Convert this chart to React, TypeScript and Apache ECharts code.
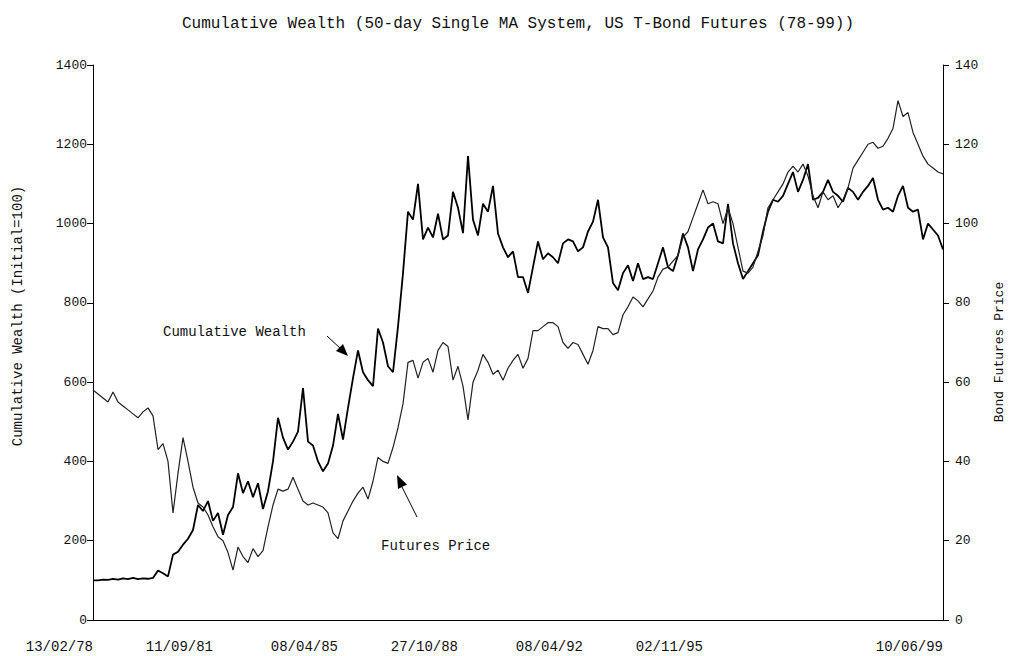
import React, { useEffect, useRef } from "react";
import * as echarts from "echarts";

// Sampled every equal step along the time axis (171 samples, Feb 1978 – Jun 1999)
const wealth: number[] = [
  100, 100, 102, 101, 104, 102, 105, 103, 106, 103,
  105, 104, 106, 125, 118, 110, 165, 172, 190, 205,
  227, 290, 275, 300, 250, 270, 215, 265, 285, 370,
  320, 350, 310, 345, 280, 325, 400, 510, 460, 430,
  450, 475, 585, 450, 440, 400, 375, 395, 440, 520,
  455, 535, 610, 680, 625, 605, 590, 735, 700, 640,
  625, 740, 875, 1030, 1010, 1100, 960, 990, 965, 1025,
  960, 970, 1080, 1040, 976, 1170, 1010, 970, 1050, 1030,
  1095, 975, 940, 915, 930, 865, 865, 825, 890, 955,
  910, 925, 915, 900, 950, 960, 955, 930, 940, 980,
  1005, 1060, 965, 940, 850, 832, 875, 895, 855, 900,
  860, 865, 860, 900, 940, 890, 880, 920, 975, 940,
  880, 935, 960, 990, 1000, 955, 950, 1050, 950, 900,
  860, 880, 900, 920, 980, 1030, 1060, 1055, 1070, 1100,
  1130, 1080, 1110, 1150, 1060, 1065, 1080, 1110, 1080, 1070,
  1055, 1090, 1080, 1060, 1080, 1095, 1115, 1060, 1035, 1040,
  1030, 1070, 1095, 1040, 1030, 1035, 960, 1000, 985, 970,
  935,
];

const futures: number[] = [
  58, 57, 56, 55, 57.5, 55, 54, 53, 52, 51,
  52.5, 53.5, 51.5, 43, 44.5, 40, 27, 37, 46, 40,
  33.5, 29.5, 28.5, 26.5, 23.5, 21, 20, 17, 12.6, 18.4,
  16, 14.5, 18, 16, 17.5, 23.5, 29, 33, 32.5, 33,
  36, 33, 30, 29, 29.5, 29, 28.5, 27, 22, 20.5,
  25, 27.5, 30, 32, 33.5, 30.5, 35, 41, 40, 39.5,
  43.5, 48.5, 54.5, 65, 65.5, 61, 65, 66, 62.5, 68,
  70, 69, 60.5, 64, 59, 50.5, 60, 63, 67, 65,
  62, 63, 60.5, 63.5, 65.5, 67, 63.5, 66, 73, 73,
  74, 75, 75, 74, 70, 68.5, 70, 69.5, 67, 64.5,
  68, 74, 73.5, 73.5, 72, 72.5, 77, 79, 81.5, 80.5,
  79, 81, 83, 86.5, 88.5, 89, 90.5, 92, 96.5, 98,
  101.5, 105, 108.5, 105, 105.5, 105, 100, 104, 100, 94,
  88, 87.5, 89, 93, 97, 104, 106, 108, 110, 113,
  114.5, 113, 115, 112, 107, 104, 108, 106, 107, 104,
  106, 109, 114, 116, 118, 120, 120.5, 119, 119.5, 121.5,
  124, 131, 127, 128, 123, 120, 117, 115, 114, 113,
  112.5,
];

const tickIndex: number[] = [0, 24, 49, 73, 98, 122, 170];
const tickLabels: string[] = [
  "13/02/78",
  "11/09/81",
  "08/04/85",
  "27/10/88",
  "08/04/92",
  "02/11/95",
  "10/06/99",
];

const titleText =
  "Cumulative Wealth (50-day Single MA System, US T-Bond Futures (78-99))";
const leftAxisName = "Cumulative Wealth (Initial=100)";
const rightAxisName = "Bond Futures Price";

const MONO = "'Liberation Mono', 'DejaVu Sans Mono', monospace";

export default function App() {
  const ref = useRef<HTMLDivElement>(null);

  useEffect(() => {
    if (!ref.current) return;
    const chart = echarts.init(ref.current, undefined, { renderer: "svg" });
    const categories = wealth.map((_, i) => String(i));

    const axisLineStyle = { color: "#000", width: 1 };

    chart.setOption({
      animation: false,
      backgroundColor: "#fff",
      title: {
        text: titleText,
        left: 513,
        textAlign: "center",
        top: 11,
        textStyle: {
          fontFamily: MONO,
          fontSize: 16,
          fontWeight: "normal",
          color: "#111",
        },
      },
      grid: { left: 93, right: 66, top: 65, bottom: 36, containLabel: false },
      xAxis: {
        type: "category",
        data: categories,
        boundaryGap: false,
        axisLine: { show: true, lineStyle: axisLineStyle },
        axisTick: { show: false },
        splitLine: { show: false },
        axisLabel: {
          interval: (index: number) => tickIndex.includes(index),
          formatter: (_v: string, index: number) => {
            const k = tickIndex.indexOf(index);
            return k >= 0 ? tickLabels[k] : "";
          },
          align: "right",
          margin: 20,
          fontFamily: MONO,
          fontSize: 14,
          color: "#111",
        },
      },
      yAxis: [
        {
          type: "value",
          min: 0,
          max: 1400,
          interval: 200,
          position: "left",
          axisLine: { show: true, lineStyle: axisLineStyle },
          axisTick: { show: true, length: 6, lineStyle: axisLineStyle },
          splitLine: { show: false },
          axisLabel: {
            formatter: (v: number) => String(v),
            fontFamily: MONO,
            fontSize: 13,
            color: "#111",
            margin: 6,
          },
        },
        {
          type: "value",
          min: 0,
          max: 140,
          interval: 20,
          position: "right",
          axisLine: { show: true, lineStyle: axisLineStyle },
          axisTick: { show: true, length: 6, lineStyle: axisLineStyle },
          splitLine: { show: false },
          axisLabel: {
            formatter: (v: number) => String(v),
            fontFamily: MONO,
            fontSize: 13,
            color: "#111",
            margin: 12,
          },
        },
      ],
      series: [
        {
          name: "Cumulative Wealth",
          type: "line",
          yAxisIndex: 0,
          data: wealth,
          symbol: "none",
          lineStyle: { color: "#000", width: 1.8 },
        },
        {
          name: "Futures Price",
          type: "line",
          yAxisIndex: 1,
          data: futures,
          symbol: "none",
          lineStyle: { color: "#222", width: 1.2 },
        },
      ],
      graphic: [
        {
          type: "text",
          x: 18,
          y: 316,
          rotation: Math.PI / 2,
          style: {
            text: leftAxisName,
            fontFamily: MONO,
            fontSize: 14,
            fill: "#111",
            align: "center",
            verticalAlign: "middle",
          },
        },
        {
          type: "text",
          x: 999,
          y: 352,
          rotation: Math.PI / 2,
          style: {
            text: rightAxisName,
            fontFamily: MONO,
            fontSize: 13,
            fill: "#111",
            align: "center",
            verticalAlign: "middle",
          },
        },
        {
          type: "text",
          x: 163,
          y: 332,
          style: {
            text: "Cumulative Wealth",
            fontFamily: MONO,
            fontSize: 14,
            fill: "#111",
            align: "left",
            verticalAlign: "middle",
          },
        },
        {
          type: "line",
          shape: { x1: 327, y1: 336, x2: 341, y2: 349 },
          style: { stroke: "#000", lineWidth: 1 },
        },
        {
          type: "polygon",
          shape: {
            points: [
              [348, 356],
              [336, 351],
              [343, 344],
            ],
          },
          style: { fill: "#000" },
        },
        {
          type: "text",
          x: 381,
          y: 546,
          style: {
            text: "Futures Price",
            fontFamily: MONO,
            fontSize: 14,
            fill: "#111",
            align: "left",
            verticalAlign: "middle",
          },
        },
        {
          type: "line",
          shape: { x1: 417, y1: 517, x2: 402, y2: 487 },
          style: { stroke: "#000", lineWidth: 1 },
        },
        {
          type: "polygon",
          shape: {
            points: [
              [397, 475],
              [407, 484.5],
              [398, 489],
            ],
          },
          style: { fill: "#000" },
        },
      ],
    });

    return () => chart.dispose();
  }, []);

  return (
    <div
      ref={ref}
      style={{
        position: "fixed",
        left: 0,
        top: 0,
        width: 1009,
        height: 656,
        background: "#fff",
      }}
    />
  );
}
